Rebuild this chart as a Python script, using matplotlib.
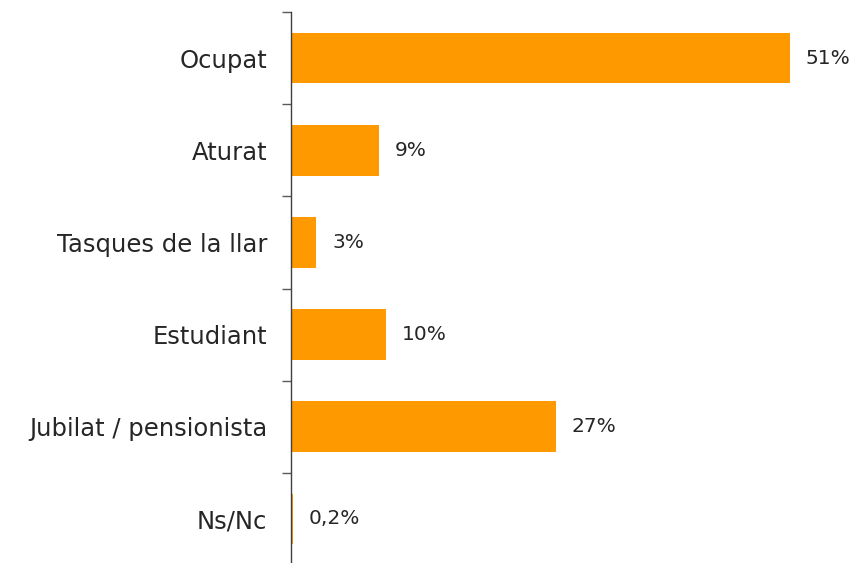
import matplotlib
matplotlib.use('Agg')
import matplotlib.pyplot as plt
import numpy as np

# data, top to bottom
categories = ['Ocupat', 'Aturat', 'Tasques de la llar', 'Estudiant',
              'Jubilat / pensionista', 'Ns/Nc']
values = [51, 9, 2.6, 9.7, 27.1, 0.2]
value_labels = ['51%', '9%', '3%', '10%', '27%', '0,2%']

BAR_COLOR = '#FF9900'
TEXT_COLOR = '#262626'

fig = plt.figure(figsize=(8.56, 5.63), dpi=100)
ax = fig.add_axes([291 / 856, -2 / 563, 1 - 291 / 856, 553 / 563])

y = np.arange(len(categories))
ax.barh(y, values, height=0.55, color=BAR_COLOR)

for yi, v, lab in zip(y, values, value_labels):
    ax.annotate(lab, (v, yi), xytext=(11.5, 0), textcoords='offset points',
                va='center', ha='left', fontsize=14.5, color=TEXT_COLOR)

ax.set_ylim(len(categories) - 0.5, -0.5)
ax.set_xlim(0, 57.8)

# ticks between categories, labels centred on bars
ax.set_yticks(y)
ax.set_yticklabels(categories, fontsize=17.5, color=TEXT_COLOR)
ax.tick_params(axis='y', which='major', length=0, pad=17)
ax.set_yticks(np.arange(-0.5, len(categories) - 0.5, 1), minor=True)
ax.tick_params(axis='y', which='minor', length=6.5, width=1, color='#595959')

ax.set_xticks([])
for side in ['top', 'right', 'bottom']:
    ax.spines[side].set_visible(False)
ax.spines['left'].set_color('#404040')
ax.spines['left'].set_linewidth(1)

plt.savefig('out.png', dpi=100)
